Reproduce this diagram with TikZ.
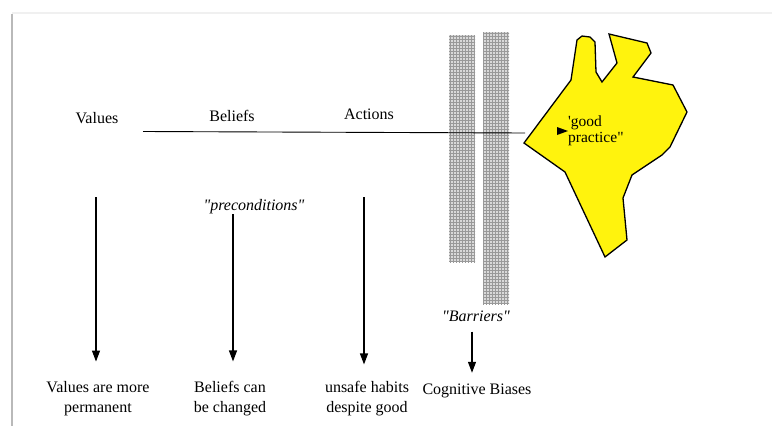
\documentclass[tikz,border=0pt]{standalone}
\usepackage{fontspec}
\setmainfont{Liberation Serif}
\usetikzlibrary{arrows.meta,patterns}
\begin{document}
\begin{tikzpicture}[x=1pt,y=-1pt,
    lbl/.style={font=\fontsize{16}{20}\selectfont,inner sep=0pt,align=center},
    arr/.style={line width=1.2pt,-{Triangle[length=11pt,width=8pt]}},
    barrier/.style={preaction={fill=gray!30},pattern=grid,pattern color=gray!80}]
            \useasboundingbox (0,0) rectangle (772,426);
            \draw[gray!12,line width=2pt] (12,13) -- (772,13);
            \draw[gray!55,line width=2.5pt] (12,14) -- (12,426);
            \fill[barrier] (449,35) rectangle (475,262);
            \fill[barrier] (483,32) rectangle (509,304);
            \draw[line width=1.3pt,fill=yellow!95!white] (524,143) -- (571,80) -- (577,40) -- (582,36) -- (590,37)
                -- (595,42) -- (596,72) -- (602,82) -- (617,63) -- (609,34) -- (647,43) -- (651,53)
                -- (633,77) -- (673,85) -- (687,112) -- (670,147) -- (662,155) -- (632,175) -- (623,198)
                -- (627,240) -- (605,257) -- (565,172) -- cycle;
            \coordinate (gp) at (525,133);
            \node[lbl] (values) at (97,118) {Values};
            \node[lbl] (beliefs) at (232,116) {Beliefs};
            \node[lbl] (actions) at (369,114) {Actions};
            \draw[line width=0.9pt] (143,131.5) -- (gp);
            \fill (557,127) -- (568,131) -- (557,135) -- cycle;
            \node[lbl,align=left,anchor=west,font=\fontsize{15.5}{16.5}\selectfont] (good) at (568,131) {\textquotesingle good\\practice\textquotedbl};
            \node[lbl,font=\fontsize{16}{20}\itshape] (precond) at (254,207) {\textquotedbl preconditions\textquotedbl};
            \node[lbl,font=\fontsize{16}{20}\itshape] (barr) at (476,316) {\textquotedbl Barriers\textquotedbl};
            \node[lbl] (valtxt) at (98,399) {Values are more\\permanent};
            \node[lbl] (beltxt) at (230,399) {Beliefs can\\be changed};
            \node[lbl] (acttxt) at (367,399) {unsafe habits\\despite good};
            \node[lbl] (cogtxt) at (477,391) {Cognitive Biases};
            \coordinate (v0) at (96,197);
            \coordinate (b0) at (233,214);
            \coordinate (a0) at (364,197);
            \draw[arr,shorten >=20pt] (v0) -- (v0 |- valtxt.north);
            \draw[arr,shorten >=20pt] (b0) -- (b0 |- beltxt.north);
            \draw[arr,shorten >=17pt] (a0) -- (a0 |- acttxt.north);
            \draw[arr,shorten <=10pt,shorten >=11pt] ([xshift=-4pt]barr.south) -- ([xshift=-5pt]cogtxt.north);
        \end{tikzpicture}
\end{document}
